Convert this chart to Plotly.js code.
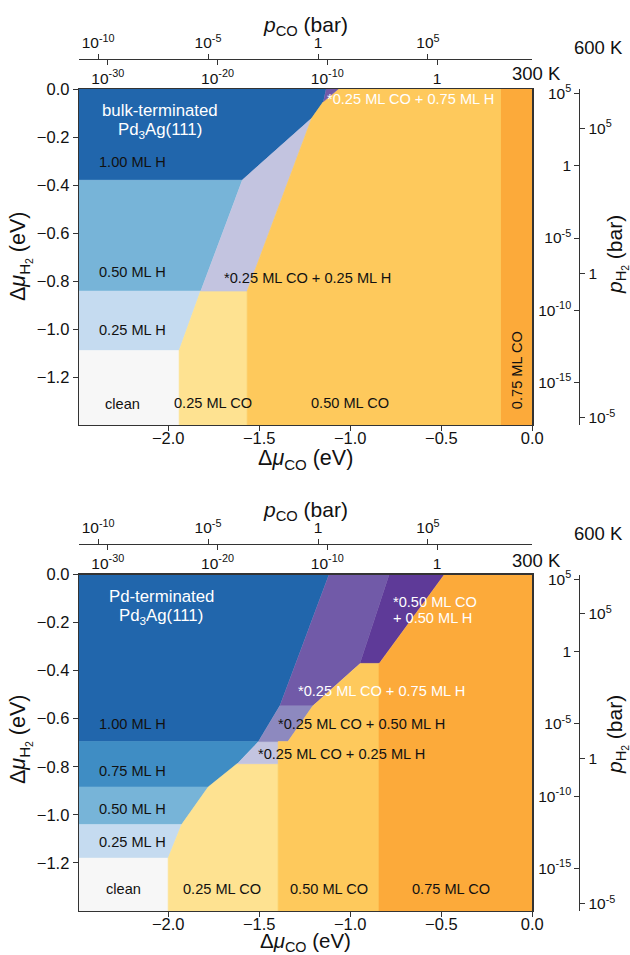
<!DOCTYPE html>
<html>
<head>
<meta charset="utf-8">
<script src="https://cdn.plot.ly/plotly-3.0.1.min.js"></script>
<style>
html,body{margin:0;padding:0;background:#fff;}
#plot{width:630px;height:955px;}
</style>
</head>
<body>
<div id="plot"></div>
<script>
// ---------- axis ranges ----------
const XMIN = -2.49, XMAX = 0.0;
const YMIN = -1.40, YMAX = 0.0;

// ---------- pressure scales: dmu = mu0 + perDecade*log10(p/bar) ----------
const CO_300K = {mu0: -0.523, perDecade: 0.0603};
const CO_600K = {mu0: -1.177, perDecade: 0.1208};
const H2_300K = {mu0: -0.320, perDecade: 0.0602};
const H2_600K = {mu0: -0.767, perDecade: 0.1207};

const pCO300Exp = [-30, -20, -10, 0];
const pCO600Exp = [-10, -5, 0, 5];
const pH2300Exp = [-15, -10, -5, 0, 5];
const pH2600Exp = [-5, 0, 5];

const muTicksX = [-2.0, -1.5, -1.0, -0.5, 0.0];
const muTicksY = [0.0, -0.2, -0.4, -0.6, -0.8, -1.0, -1.2];

// ---------- colours ----------
const C = {
  H100: '#2166ac', H75: '#3f8dc4', H50: '#77b4d8', H25: '#c5dbf0', clean: '#f7f7f7',
  CO25H25: '#c3c4e0', CO25H50: '#8d89bf', CO25H75: '#715aa8', CO50H50: '#5e3a98',
  CO25: '#fee291', CO50: '#fec95c', CO75: '#fcaa3a'
};

// ---------- top panel: bulk-terminated Pd3Ag(111) phase regions ----------
const T_H100_x = [XMIN, -1.133, -1.148, -1.212, -1.594, XMIN];
const T_H100_y = [0, 0, -0.053, -0.122, -0.380, -0.380];
const T_CO25H75_x = [-1.133, -1.066, -1.148];
const T_CO25H75_y = [0, 0, -0.053];
const T_CO25H25_x = [-1.594, -1.212, -1.566, -1.822];
const T_CO25H25_y = [-0.380, -0.122, -0.842, -0.842];
const T_H50_x = [XMIN, -1.594, -1.822, XMIN];
const T_H50_y = [-0.380, -0.380, -0.842, -0.842];
const T_H25_x = [XMIN, -1.822, -1.940, XMIN];
const T_H25_y = [-0.842, -0.842, -1.090, -1.090];
const T_clean_x = [XMIN, -1.940, -1.940, XMIN];
const T_clean_y = [-1.090, -1.090, YMIN, YMIN];
const T_CO25_x = [-1.940, -1.940, -1.822, -1.566, -1.566];
const T_CO25_y = [YMIN, -1.090, -0.842, -0.842, YMIN];
const T_CO50_x = [-1.066, -0.172, -0.172, -1.566, -1.566, -1.212, -1.148];
const T_CO50_y = [0, 0, YMIN, YMIN, -0.842, -0.122, -0.053];
const T_CO75_x = [-0.172, 0, 0, -0.172];
const T_CO75_y = [0, 0, YMIN, YMIN];

// ---------- bottom panel: Pd-terminated Pd3Ag(111) phase regions ----------
const B_H100_x = [XMIN, -1.117, -1.386, -1.505, XMIN];
const B_H100_y = [0, 0, -0.544, -0.695, -0.695];
const B_CO25H75_x = [-1.117, -0.786, -0.947, -1.203, -1.386];
const B_CO25H75_y = [0, 0, -0.370, -0.544, -0.544];
const B_CO50H50_x = [-0.786, -0.484, -0.842, -0.947];
const B_CO50H50_y = [0, 0, -0.370, -0.370];
const B_CO25H50_x = [-1.386, -1.203, -1.342, -1.505];
const B_CO25H50_y = [-0.544, -0.544, -0.695, -0.695];
const B_CO25H25_x = [-1.505, -1.396, -1.396, -1.621];
const B_CO25H25_y = [-0.695, -0.695, -0.787, -0.787];
const B_H75_x = [XMIN, -1.505, -1.621, -1.780, XMIN];
const B_H75_y = [-0.695, -0.695, -0.787, -0.884, -0.884];
const B_H50_x = [XMIN, -1.780, -1.926, XMIN];
const B_H50_y = [-0.884, -0.884, -1.040, -1.040];
const B_H25_x = [XMIN, -1.926, -2.000, XMIN];
const B_H25_y = [-1.040, -1.040, -1.180, -1.180];
const B_clean_x = [XMIN, -2.000, -2.000, XMIN];
const B_clean_y = [-1.180, -1.180, YMIN, YMIN];
const B_CO25_x = [-2.000, -2.000, -1.926, -1.780, -1.621, -1.396, -1.396];
const B_CO25_y = [YMIN, -1.180, -1.040, -0.884, -0.787, -0.787, YMIN];
const B_CO50_x = [-0.947, -0.842, -0.842, -1.396, -1.396, -1.342, -1.203];
const B_CO50_y = [-0.370, -0.370, YMIN, YMIN, -0.695, -0.695, -0.544];
const B_CO75_x = [-0.484, 0, 0, -0.842, -0.842];
const B_CO75_y = [0, 0, YMIN, YMIN, -0.370];

// ---------- labels ----------
const T_labels = [
  {t: '1.00 ML H', x: -2.197, y: -0.306, c: '#111'},
  {t: '0.50 ML H', x: -2.197, y: -0.763, c: '#111'},
  {t: '0.25 ML H', x: -2.197, y: -1.006, c: '#111'},
  {t: 'clean', x: -2.253, y: -1.312, c: '#111'},
  {t: '0.25 ML CO', x: -1.752, y: -1.310, c: '#111'},
  {t: '0.50 ML CO', x: -1.000, y: -1.310, c: '#111'},
  {t: '*0.25 ML CO + 0.25 ML H', x: -1.233, y: -0.788, c: '#111'},
  {t: '*0.25 ML CO + 0.75 ML H', x: -0.668, y: -0.042, c: '#ffffff'}
];
const B_labels = [
  {t: '1.00 ML H', x: -2.194, y: -0.623, c: '#111'},
  {t: '0.75 ML H', x: -2.194, y: -0.8175, c: '#111'},
  {t: '0.50 ML H', x: -2.194, y: -0.974, c: '#111'},
  {t: '0.25 ML H', x: -2.194, y: -1.113, c: '#111'},
  {t: 'clean', x: -2.245, y: -1.3075, c: '#111'},
  {t: '0.25 ML CO', x: -1.705, y: -1.3075, c: '#111'},
  {t: '0.50 ML CO', x: -1.118, y: -1.3075, c: '#111'},
  {t: '0.75 ML CO', x: -0.446, y: -1.3075, c: '#111'},
  {t: '*0.25 ML CO + 0.25 ML H', x: -1.049, y: -0.745, c: '#111'},
  {t: '*0.25 ML CO + 0.50 ML H', x: -0.940, y: -0.624, c: '#111'},
  {t: '*0.25 ML CO + 0.75 ML H', x: -0.830, y: -0.484, c: '#ffffff'}
];

// ---------- geometry (pixels -> paper) ----------
const W = 630, H = 955;
const px = v => v / W, py = v => (H - v) / H;
const domX = [px(79), px(532.3)];
const domTop = [py(425), py(89)];
const domBot = [py(911), py(574.5)];
const FONT = 'Liberation Sans, Arial, Helvetica, sans-serif';
const LBL = 14.6;

function region(x, y, color, xa, ya) {
  return {type: 'scatter', x: x, y: y, xaxis: xa, yaxis: ya, mode: 'lines',
    fill: 'toself', fillcolor: color, line: {color: color, width: 0.6},
    hoverinfo: 'skip', showlegend: false};
}
function dummy(xa, ya) {
  return {type: 'scatter', x: [null], y: [null], xaxis: xa, yaxis: ya, mode: 'markers',
    hoverinfo: 'skip', showlegend: false};
}

const traces = [
  region(T_H100_x, T_H100_y, C.H100, 'x', 'y'),
  region(T_H50_x, T_H50_y, C.H50, 'x', 'y'),
  region(T_H25_x, T_H25_y, C.H25, 'x', 'y'),
  region(T_clean_x, T_clean_y, C.clean, 'x', 'y'),
  region(T_CO25_x, T_CO25_y, C.CO25, 'x', 'y'),
  region(T_CO25H25_x, T_CO25H25_y, C.CO25H25, 'x', 'y'),
  region(T_CO50_x, T_CO50_y, C.CO50, 'x', 'y'),
  region(T_CO75_x, T_CO75_y, C.CO75, 'x', 'y'),
  region(T_CO25H75_x, T_CO25H75_y, C.CO25H75, 'x', 'y'),

  region(B_H100_x, B_H100_y, C.H100, 'x2', 'y2'),
  region(B_H75_x, B_H75_y, C.H75, 'x2', 'y2'),
  region(B_H50_x, B_H50_y, C.H50, 'x2', 'y2'),
  region(B_H25_x, B_H25_y, C.H25, 'x2', 'y2'),
  region(B_clean_x, B_clean_y, C.clean, 'x2', 'y2'),
  region(B_CO25_x, B_CO25_y, C.CO25, 'x2', 'y2'),
  region(B_CO25H25_x, B_CO25H25_y, C.CO25H25, 'x2', 'y2'),
  region(B_CO25H50_x, B_CO25H50_y, C.CO25H50, 'x2', 'y2'),
  region(B_CO25H75_x, B_CO25H75_y, C.CO25H75, 'x2', 'y2'),
  region(B_CO50H50_x, B_CO50H50_y, C.CO50H50, 'x2', 'y2'),
  region(B_CO50_x, B_CO50_y, C.CO50, 'x2', 'y2'),
  region(B_CO75_x, B_CO75_y, C.CO75, 'x2', 'y2'),

  dummy('x3', 'y'), dummy('x4', 'y'), dummy('x', 'y3'), dummy('x', 'y4'),
  dummy('x5', 'y2'), dummy('x6', 'y2'), dummy('x2', 'y5'), dummy('x2', 'y6')
];

const expText = e => e === 0 ? '1' : '10<sup>' + e + '</sup>';
const rangeFor = (s, lo, hi) => [(lo - s.mu0) / s.perDecade, (hi - s.mu0) / s.perDecade];

const tickFont = {family: FONT, size: 16.5, color: '#111'};
const pTickFont = {family: FONT, size: 15.5, color: '#111'};
const lineCol = '#333';

function mainX(anchor) {
  return {domain: domX, anchor: anchor, range: [XMIN, XMAX], tickmode: 'array', tickvals: muTicksX,
    tickformat: '.1f', ticks: 'outside', ticklen: 5, tickwidth: 1, tickcolor: lineCol,
    ticklabelstandoff: -7,
    showline: true, mirror: true, linecolor: lineCol, linewidth: 1.3,
    showgrid: false, zeroline: false, tickfont: tickFont, fixedrange: true};
}
function mainY(anchor, dom) {
  return {domain: dom, anchor: anchor, range: [YMIN, YMAX], tickmode: 'array', tickvals: muTicksY,
    tickformat: '.1f', ticks: 'outside', ticklen: 5, tickwidth: 1, tickcolor: lineCol,
    showline: true, mirror: true, linecolor: lineCol, linewidth: 1.3,
    showgrid: false, zeroline: false, tickfont: tickFont, fixedrange: true};
}
function pX(over, pos, side, scale, exps) {
  return {overlaying: over, anchor: 'free', position: pos, side: side, domain: domX,
    range: rangeFor(scale, XMIN, XMAX), tickmode: 'array', tickvals: exps, ticktext: exps.map(expText),
    ticks: 'outside', ticklen: 5, tickwidth: 1, tickcolor: lineCol,
    showline: true, linecolor: lineCol, linewidth: 1.1,
    showgrid: false, zeroline: false, tickfont: pTickFont, fixedrange: true};
}
function pY(over, dom, pos, side, scale, exps) {
  return {overlaying: over, anchor: 'free', position: pos, side: side, domain: dom,
    range: rangeFor(scale, YMIN, YMAX), tickmode: 'array', tickvals: exps, ticktext: exps.map(expText),
    ticks: 'outside', ticklen: 5, tickwidth: 1, tickcolor: lineCol,
    showline: true, linecolor: lineCol, linewidth: 1.1,
    showgrid: false, zeroline: false, tickfont: pTickFont, fixedrange: true};
}

const annotations = [];
function addLabels(list, xr, yr) {
  list.forEach(l => annotations.push({text: l.t, x: l.x, y: l.y, xref: xr, yref: yr,
    showarrow: false, font: {family: FONT, size: LBL, color: l.c}, xanchor: 'center', yanchor: 'middle'}));
}
addLabels(T_labels, 'x', 'y');
addLabels(B_labels, 'x2', 'y2');

// rotated 0.75 ML CO in top panel
annotations.push({text: '0.75 ML CO', x: -0.086, y: -1.173, xref: 'x', yref: 'y', textangle: -90,
  showarrow: false, font: {family: FONT, size: LBL, color: '#111'}});
// surface names (one annotation per line, tight line spacing as in the original)
function nameLines(lines, x, ys, xr, yr, anchor, size) {
  lines.forEach((t, i) => annotations.push({text: t, x: x, y: ys[i], xref: xr, yref: yr,
    showarrow: false, xanchor: anchor, yanchor: 'middle', borderpad: 0,
    font: {family: FONT, size: size, color: '#ffffff'}}));
}
nameLines(['bulk-terminated', 'Pd<sub>3</sub>Ag(111)'], -2.046, [-0.090, -0.174], 'x', 'y', 'center', 16.8);
nameLines(['Pd-terminated', 'Pd<sub>3</sub>Ag(111)'], -2.037, [-0.090, -0.176], 'x2', 'y2', 'center', 16.8);
nameLines(['*0.50 ML CO', '+ 0.50 ML H'], -0.7725, [-0.115, -0.181], 'x2', 'y2', 'left', LBL);

// titles and temperature labels (paper coords)
function paperText(t, x, y, size, opts) {
  annotations.push(Object.assign({text: t, x: x, y: y, xref: 'paper', yref: 'paper', showarrow: false,
    xanchor: 'center', yanchor: 'middle', font: {family: FONT, size: size, color: '#111'}}, opts || {}));
}
const midX = (79 + 532.3) / 2 / W;
[[0, 26, 47, 74, 257, 255, 460, 21.5], [486, 511, 533, 560, 740, 735, 942, 20.5]].forEach(r => {
  paperText('<i>p</i><sub>CO</sub> (bar)', midX, py(r[1]), 21);
  paperText('600 K', px(625), py(r[2]), 18.5, {xanchor: 'right'});
  paperText('300 K', px(563), py(r[3]), 18.5, {xanchor: 'right'});
  paperText('Δ<i>μ</i><sub>H<sub>2</sub></sub> (eV)', px(20), py(r[4]), 21.5, {textangle: -90});
  paperText('<i>p</i><sub>H<sub>2</sub></sub> (bar)', px(617), py(r[5]), 21, {textangle: -90});
  paperText('Δ<i>μ</i><sub>CO</sub> (eV)', midX, py(r[6]), r[7], {borderpad: 0});
});

const layout = {
  width: W, height: H, margin: {l: 0, r: 0, t: 0, b: 0, pad: 0},
  paper_bgcolor: '#ffffff', plot_bgcolor: '#ffffff', showlegend: false,
  font: {family: FONT, size: 15, color: '#111'},
  xaxis: mainX('y'), yaxis: mainY('x', domTop),
  xaxis2: mainX('y2'), yaxis2: mainY('x2', domBot),
  xaxis3: pX('x', py(59.3), 'top', CO_600K, pCO600Exp),
  xaxis4: pX('x', py(59.3), 'bottom', CO_300K, pCO300Exp),
  yaxis3: pY('y', domTop, px(579.3), 'left', H2_300K, pH2300Exp),
  yaxis4: pY('y', domTop, px(579.3), 'right', H2_600K, pH2600Exp),
  xaxis5: pX('x2', py(544.3), 'top', CO_600K, pCO600Exp),
  xaxis6: pX('x2', py(544.3), 'bottom', CO_300K, pCO300Exp),
  yaxis5: pY('y2', domBot, px(579.3), 'left', H2_300K, pH2300Exp),
  yaxis6: pY('y2', domBot, px(579.3), 'right', H2_600K, pH2600Exp),
  annotations: annotations
};

Plotly.newPlot('plot', traces, layout, {displayModeBar: false, staticPlot: true});
</script>
</body>
</html>
